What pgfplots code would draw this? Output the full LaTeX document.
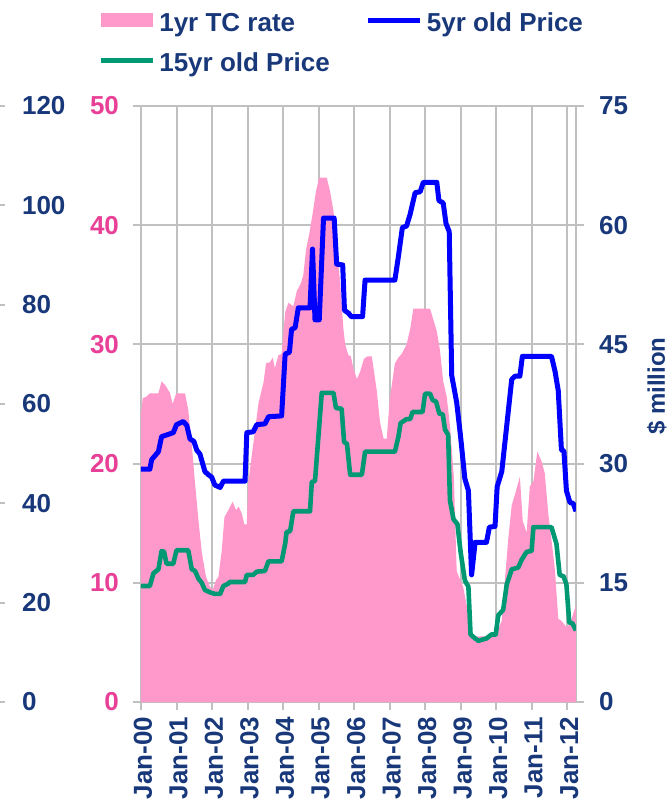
\documentclass[border=0pt]{standalone}
\usepackage{fontspec}
\setmainfont{Liberation Sans}
\usepackage{pgfplots}
\pgfplotsset{compat=1.18}
\usepackage{pgfplotstable}
\definecolor{navy}{RGB}{24,56,122}
\definecolor{pinkfill}{RGB}{255,153,204}
\definecolor{pinklab}{RGB}{232,64,150}
\definecolor{blueline}{RGB}{0,0,255}
\definecolor{greenline}{RGB}{0,153,115}
\definecolor{gridgray}{RGB}{192,192,192}
\newcommand{\lf}{\bfseries\fontsize{13}{15.6}\selectfont}
\pgfplotsset{
  pinklegend/.style={legend image code/.code={\fill[##1] (0pt,-1.75pt) rectangle (26pt,5.25pt);}},
  linelegend/.style={legend image code/.code={\draw[##1] (0pt,1.5pt) -- (26pt,1.5pt);}},
}

\pgfplotstableread{
yr v
0.00 24.2
0.05 25.5
0.15 25.6
0.25 25.9
0.49 25.9
0.58 26.9
0.68 26.6
0.82 25.9
0.89 25.0
0.99 25.9
1.24 25.9
1.33 24.5
1.43 21.6
1.52 18.4
1.62 15.2
1.71 12.6
1.83 10.5
1.94 9.7
2.02 9.4
2.11 10.2
2.18 10.5
2.27 12.6
2.35 15.5
2.46 16.1
2.58 16.8
2.68 16.1
2.75 16.4
2.84 15.8
2.91 14.9
2.98 14.9
3.02 18.4
3.16 21.6
3.31 25.1
3.45 26.8
3.52 28.4
3.63 28.5
3.71 28.9
3.77 28.0
3.87 29.1
3.96 29.2
4.06 32.7
4.15 33.5
4.29 33.2
4.39 34.5
4.50 35.1
4.57 35.8
4.65 38.0
4.74 39.3
4.84 41.1
4.93 42.9
5.02 44.0
5.23 44.0
5.32 42.9
5.42 41.2
5.51 38.3
5.61 35.1
5.70 31.3
5.75 30.0
5.84 29.1
5.91 29.0
5.98 28.0
6.08 27.1
6.17 27.7
6.28 28.8
6.38 29.0
6.50 29.0
6.64 26.1
6.73 23.5
6.83 22.1
6.92 22.1
7.01 25.5
7.15 28.4
7.25 28.9
7.34 29.2
7.48 30.0
7.58 31.3
7.67 33.0
8.14 33.0
8.23 32.1
8.33 31.1
8.42 29.5
8.51 26.9
8.61 25.6
8.70 23.2
8.81 18.9
8.89 11.0
8.98 10.3
9.07 9.7
9.19 7.8
9.26 5.7
9.36 5.5
9.73 5.5
9.83 5.7
10.02 5.9
10.16 6.8
10.25 10.3
10.34 13.6
10.44 16.5
10.53 17.4
10.67 18.9
10.75 15.2
10.86 14.2
10.95 18.1
11.05 18.5
11.16 21.0
11.28 20.2
11.37 19.2
11.47 15.8
11.56 13.6
11.66 11.0
11.75 7.0
11.84 6.8
11.98 6.3
12.08 6.5
12.17 7.4
12.25 8.1
}\tcrate

\pgfplotstableread{
yr v
0.00 29.3
0.25 29.3
0.30 30.5
0.49 31.5
0.58 33.4
0.72 33.6
0.91 33.9
1.00 34.9
1.19 35.3
1.29 34.8
1.38 33.1
1.49 32.8
1.57 31.7
1.66 31.2
1.80 29.0
1.90 28.6
1.99 28.3
2.08 27.3
2.23 27.0
2.32 27.8
2.93 27.8
2.98 33.9
3.16 34.0
3.26 34.9
3.49 35.0
3.59 35.9
3.96 36.0
4.06 43.8
4.18 44.0
4.24 46.9
4.34 47.1
4.43 49.6
4.76 49.6
4.83 57.0
4.90 48.1
5.02 48.1
5.14 60.9
5.44 60.9
5.51 55.1
5.68 55.0
5.73 49.3
5.85 48.9
5.92 48.5
6.24 48.5
6.31 53.1
7.15 53.1
7.25 56.1
7.36 59.7
7.48 59.9
7.58 61.4
7.72 64.1
7.86 64.2
7.95 65.4
8.33 65.4
8.39 63.1
8.51 62.8
8.59 60.2
8.68 59.2
8.75 41.1
8.89 37.7
9.00 33.4
9.12 28.1
9.22 26.6
9.31 16.0
9.41 20.1
9.73 20.1
9.81 22.0
9.97 22.1
10.03 27.1
10.16 29.0
10.30 34.8
10.44 40.6
10.53 41.0
10.67 41.0
10.74 43.5
11.56 43.5
11.66 41.6
11.75 39.2
11.84 31.7
11.91 31.6
11.98 26.6
12.08 25.1
12.17 25.0
12.25 24.0
}\fiveyr

\pgfplotstableread{
yr v
0.00 14.6
0.25 14.6
0.35 16.2
0.49 16.7
0.58 19.0
0.65 18.9
0.72 17.4
0.91 17.4
1.00 19.1
1.33 19.1
1.43 16.7
1.52 16.5
1.62 15.5
1.71 15.0
1.80 14.1
1.94 13.8
2.08 13.6
2.23 13.6
2.32 14.6
2.46 14.9
2.50 15.1
2.93 15.1
2.98 16.0
3.16 16.0
3.26 16.4
3.49 16.5
3.59 17.7
3.96 17.7
4.06 19.9
4.10 21.4
4.20 21.5
4.29 24.0
4.76 24.0
4.81 27.7
4.90 27.8
5.09 38.9
5.42 38.9
5.49 37.0
5.65 36.9
5.72 32.7
5.80 32.5
5.89 28.6
6.22 28.6
6.31 31.5
7.15 31.5
7.25 33.4
7.31 35.1
7.48 35.6
7.58 35.6
7.65 36.5
7.93 36.5
8.00 38.8
8.14 38.8
8.21 38.0
8.31 37.8
8.40 36.3
8.50 36.2
8.56 34.3
8.65 33.6
8.70 25.4
8.80 23.0
8.91 22.4
9.00 18.9
9.12 15.3
9.22 14.5
9.28 8.5
9.41 8.0
9.50 7.7
9.73 8.0
9.87 8.5
9.99 8.5
10.06 10.9
10.20 11.6
10.30 14.8
10.44 16.7
10.62 16.9
10.72 17.9
10.86 18.9
11.00 19.0
11.05 22.0
11.56 22.0
11.70 19.9
11.79 16.0
11.90 15.8
11.98 14.8
12.06 10.0
12.15 9.9
12.25 9.0
}\fifteenyr

\begin{document}
\begin{tikzpicture}
% main axis: 1yr TC rate (pink, 0-50)
\begin{axis}[
  scale only axis, width=217.5pt, height=298pt,
  xmin=0, xmax=12.25, ymin=0, ymax=50,
  xtick={0,...,12},
  xticklabels={Jan-00,Jan-01,Jan-02,Jan-03,Jan-04,Jan-05,Jan-06,Jan-07,Jan-08,Jan-09,Jan-10,Jan-11,Jan-12},
  ytick={0,10,...,50},
  xtick pos=bottom, ytick pos=left,
  tick align=outside, major tick length=4pt,
  axis line style={gridgray, line width=1pt},
  every tick/.style={gridgray, line width=1pt},
  grid=major, major grid style={gridgray, line width=1pt},
  xticklabel style={rotate=90, anchor=east, font=\lf, text=navy, yshift=-1pt},
  yticklabel style={font=\lf, text=pinklab, xshift=-3.5pt},
  /pgf/number format/assume math mode=true,
  legend columns=2, legend cell align=left,
  legend style={draw=none, fill=none, at={(rel axis cs:-0.099,1.164)}, anchor=north west,
    font=\lf, text=navy, inner sep=0pt, row sep=5pt,
    /tikz/column 2/.style={column sep=16pt}},
]
\addplot[fill=pinkfill, draw=none, pinklegend]
  table[x=yr, y=v] {\tcrate} \closedcycle;
\addlegendentry{1yr TC rate}
\addlegendimage{blueline, line width=2.5pt, linelegend}
\addlegendentry{5yr old Price}
\addlegendimage{greenline, line width=2.5pt, linelegend}
\addlegendentry{15yr old Price}
\end{axis}

% secondary axis: prices ($ million, 0-75)
\begin{axis}[
  scale only axis, width=217.5pt, height=298pt,
  xmin=0, xmax=12.25, ymin=0, ymax=75,
  axis x line=none, axis y line*=right,
  ytick={0,15,...,75},
  tick align=outside, major tick length=4pt,
  y axis line style={draw=none},
  every tick/.style={gridgray, line width=1pt},
  yticklabel style={font=\lf, text=navy, xshift=4pt},
  /pgf/number format/assume math mode=true,
  ylabel={\$ million},
  ylabel style={font=\bfseries\fontsize{12}{14}\selectfont, text=navy,
    at={(rel axis cs:1.147,0.53)}, anchor=north, rotate=0},
]
\addplot[blueline, line width=2.5pt, line join=round] table[x=yr, y=v] {\fiveyr};
\addplot[greenline, line width=2.3pt, line join=round] table[x=yr, y=v] {\fifteenyr};
\end{axis}

% outer left axis (0-120)
\begin{axis}[
  at={(-69pt,0pt)}, anchor=south west,
  scale only axis, width=1pt, height=298pt,
  xmin=0, xmax=1, ymin=0, ymax=120,
  axis x line=none, axis y line*=right,
  ytick={0,20,...,120},
  tick align=inside, major tick length=2.5pt,
  y axis line style={draw=none},
  every tick/.style={gridgray, line width=1pt},
  yticklabel style={font=\lf, text=navy, anchor=west, xshift=5pt},
  /pgf/number format/assume math mode=true,
]
\end{axis}
\pgfresetboundingbox
\path[use as bounding box] (-70.5pt,-51.5pt) rectangle (264pt,351pt);
\end{tikzpicture}
\end{document}
